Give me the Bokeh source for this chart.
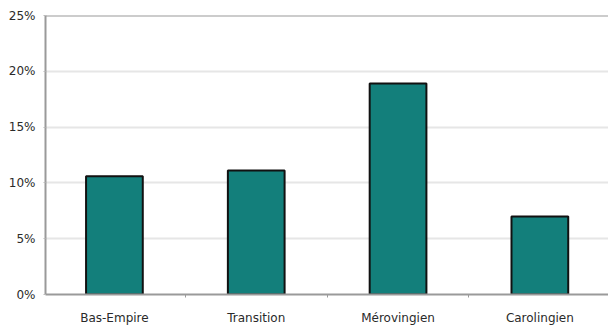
from bokeh.plotting import figure
from bokeh.models import Range1d, FixedTicker, PrintfTickFormatter, Span, ColumnDataSource
from bokeh.embed import file_html
from bokeh.resources import INLINE

categories = ["Bas-Empire", "Transition", "Mérovingien", "Carolingien"]
values = [10.6, 11.1, 18.9, 7.0]
y_ticks = [0, 5, 10, 15, 20, 25]

centers = [i + 0.5 for i in range(len(categories))]
boundaries = [i for i in range(1, len(categories))]

src = ColumnDataSource(dict(x=centers, top=values, cat=categories))

p = figure(width=608, height=327, output_backend="svg", toolbar_location=None,
           x_range=Range1d(0.014, 3.984), y_range=Range1d(0, 25),
           min_border_left=45, min_border_right=0, min_border_top=15, min_border_bottom=33)
p.outline_line_color = None
p.background_fill_color = "white"
p.border_fill_color = "white"

p.vbar(x="x", top="top", width=0.4, bottom=0, source=src,
       fill_color="#137f7b", line_color="#111111", line_width=2)

p.add_layout(Span(location=25, dimension="width", line_color="#9a9a9a", line_width=2))

font = "DejaVu Sans"

# x axis
xa = p.xaxis[0]
xa.ticker = FixedTicker(ticks=centers, minor_ticks=boundaries)
xa.major_label_overrides = {c: n for c, n in zip(centers, categories)}
xa.major_tick_out = 0
xa.major_tick_in = 0
xa.minor_tick_out = 3
xa.minor_tick_in = 0
xa.minor_tick_line_color = "#9a9a9a"
xa.axis_line_color = "#9a9a9a"
xa.axis_line_width = 2
xa.major_label_text_font = font
xa.major_label_text_font_size = "12px"
xa.major_label_text_color = "#2a2a2a"
xa.major_label_standoff = 13

# y axis
ya = p.yaxis[0]
ya.ticker = FixedTicker(ticks=y_ticks)
ya.formatter = PrintfTickFormatter(format="%d%%")
ya.major_tick_out = 2
ya.major_tick_in = 0
ya.minor_tick_line_color = None
ya.major_tick_line_color = "#bbbbbb"
ya.axis_line_color = "#9a9a9a"
ya.axis_line_width = 2
ya.major_label_text_font = font
ya.major_label_text_font_size = "12px"
ya.major_label_text_color = "#2a2a2a"
ya.major_label_standoff = 8

p.xgrid.grid_line_color = None
p.ygrid.ticker = FixedTicker(ticks=y_ticks)
p.ygrid.grid_line_color = "#e6e6e6"
p.ygrid.grid_line_width = 2

open("out.html", "w").write(file_html(p, INLINE))
